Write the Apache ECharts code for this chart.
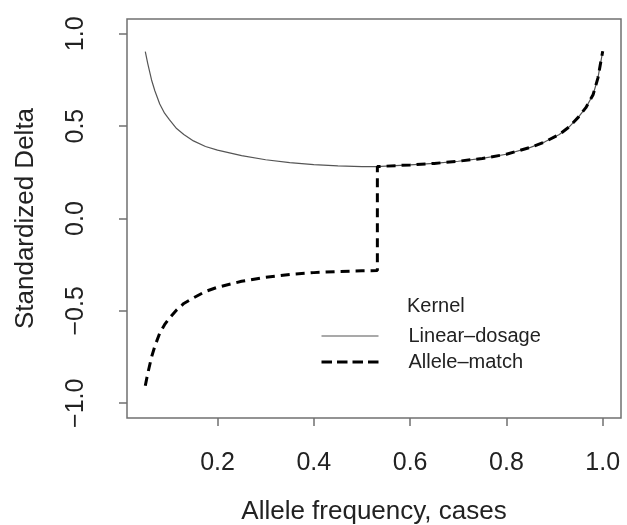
<!DOCTYPE html>
<html>
<head>
<meta charset="utf-8">
<title>Standardized Delta</title>
<script src="https://cdn.jsdelivr.net/npm/echarts@6/dist/echarts.min.js"></script>
<style>
  html, body { margin: 0; padding: 0; background: #fff; }
  #chart { width: 627px; height: 525px; }
</style>
</head>
<body>
<div id="chart"></div>
<script>
// values
var xTicks = [0.2, 0.4, 0.6, 0.8, 1.0];
var yTicks = [-1.0, -0.5, 0.0, 0.5, 1.0];

var linearDosage = [
  [0.05, 0.904], [0.055, 0.84], [0.063, 0.75], [0.07, 0.69], [0.08, 0.62],
  [0.09, 0.57], [0.1, 0.535], [0.115, 0.487], [0.13, 0.455], [0.15, 0.42],
  [0.175, 0.39], [0.2, 0.37], [0.25, 0.34], [0.3, 0.318], [0.35, 0.303],
  [0.4, 0.292], [0.45, 0.285], [0.5, 0.281], [0.53, 0.281], [0.6, 0.29],
  [0.65, 0.298], [0.7, 0.31], [0.75, 0.325], [0.8, 0.348], [0.85, 0.385],
  [0.88, 0.415], [0.91, 0.455], [0.93, 0.495], [0.95, 0.55], [0.965, 0.6],
  [0.98, 0.67], [0.99, 0.76], [1.0, 0.905]
];

var alleleMatch = [
  [0.05, -0.905], [0.055, -0.84], [0.063, -0.75], [0.07, -0.69], [0.08, -0.62],
  [0.09, -0.575], [0.1, -0.54], [0.115, -0.495], [0.13, -0.46], [0.15, -0.43],
  [0.175, -0.395], [0.2, -0.372], [0.25, -0.34], [0.3, -0.318], [0.35, -0.303],
  [0.4, -0.293], [0.45, -0.287], [0.5, -0.283], [0.532, -0.282], [0.532, 0.281],
  [0.6, 0.29], [0.65, 0.298], [0.7, 0.31], [0.75, 0.325], [0.8, 0.348],
  [0.85, 0.385], [0.88, 0.415], [0.91, 0.455], [0.93, 0.495], [0.95, 0.55],
  [0.965, 0.6], [0.98, 0.67], [0.99, 0.76], [1.0, 0.905]
];

var font = "'Liberation Sans', Arial, sans-serif";

var option = {
  animation: false,
  backgroundColor: '#fff',
  textStyle: { fontFamily: font },
  grid: {
    left: 127, right: 6, top: 19, bottom: 107,
    outerBoundsMode: 'none',
    show: true, borderColor: '#707070', borderWidth: 1.5
  },
  xAxis: {
    type: 'value',
    min: 0.012, max: 1.038,
    name: 'Allele frequency, cases',
    nameLocation: 'middle',
    nameGap: 81,
    nameTextStyle: { fontSize: 26, color: '#222', fontFamily: font },
    axisLine: { show: false, onZero: false },
    splitLine: { show: false },
    axisTick: { show: true, length: 8, customValues: xTicks, lineStyle: { color: '#707070', width: 1.5 } },
    axisLabel: {
      customValues: xTicks, margin: 33, fontSize: 25, color: '#222', fontFamily: font,
      formatter: function (v) { return v.toFixed(1); }
    }
  },
  yAxis: {
    type: 'value',
    min: -1.08, max: 1.08,
    name: 'Standardized Delta',
    nameLocation: 'middle',
    nameGap: 88,
    nameTextStyle: { fontSize: 26, color: '#222', fontFamily: font },
    axisLine: { show: false, onZero: false },
    splitLine: { show: false },
    axisTick: { show: true, length: 8, customValues: yTicks, lineStyle: { color: '#707070', width: 1.5 } },
    axisLabel: {
      customValues: yTicks, rotate: 90, margin: 38, fontSize: 25, color: '#222', fontFamily: font,
      formatter: function (v) {
        return (v < 0 ? '\u2212' : '') + Math.abs(v).toFixed(1);
      }
    }
  },
  legend: {
    orient: 'vertical',
    left: 320, top: 326,
    padding: 0,
    itemWidth: 57, itemHeight: 14, itemGap: 6,
    selectedMode: false,
    itemStyle: { opacity: 0 },
    textStyle: { fontSize: 20, color: '#222', fontFamily: font, padding: [0, 0, 0, 25] },
    data: [
      { name: 'Linear\u2013dosage', lineStyle: { width: 1.2, color: '#555' } },
      { name: 'Allele\u2013match', lineStyle: { width: 3, color: '#000', type: [10.5, 5] } }
    ]
  },
  graphic: [
    {
      type: 'text', left: 407, top: 296,
      style: { text: 'Kernel', fontSize: 20, fill: '#222', fontFamily: font }
    }
  ],
  series: [
    {
      name: 'Linear\u2013dosage',
      type: 'line',
      data: linearDosage,
      symbol: 'none',
      itemStyle: { color: '#555' },
      lineStyle: { color: '#555', width: 1.2 }
    },
    {
      name: 'Allele\u2013match',
      type: 'line',
      data: alleleMatch,
      symbol: 'none',
      itemStyle: { color: '#000' },
      lineStyle: { color: '#000', width: 3, type: [9, 6] }
    }
  ]
};

var myChart = echarts.init(document.getElementById('chart'));
myChart.setOption(option);
</script>
</body>
</html>
